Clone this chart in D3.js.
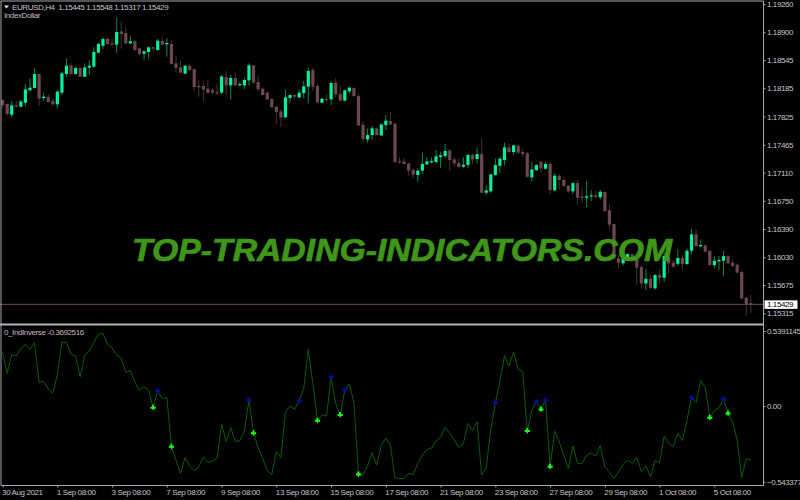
<!DOCTYPE html>
<html>
<head>
<meta charset="utf-8">
<script src="https://cdn.jsdelivr.net/npm/d3@7/dist/d3.min.js"></script>
<style>
  html, body { margin: 0; padding: 0; background: #000; }
  svg { display: block; }
  text { font-family: "Liberation Sans", sans-serif; }
  .small { font-size: 8px; letter-spacing: -0.4px; }
</style>
</head>
<body>
<div id="chart"></div>
<script>
// EURUSD H4 candles
const opens = [
  1.18035,1.17984,1.17848,1.17967,1.17950,1.18001,1.18159,1.18188,1.18367,1.18061,
  1.18074,1.18023,1.17980,1.18129,1.18367,1.18478,1.18367,1.18444,1.18333,1.18448,
  1.18461,1.18639,1.18728,1.18818,1.18758,1.18741,1.18911,1.18890,1.18758,1.18784,
  1.18694,1.18626,1.18648,1.18707,1.18673,1.18788,1.18746,1.18750,1.18503,1.18452,
  1.18371,1.18473,1.18431,1.18214,1.18214,1.18180,1.18159,1.18133,1.18129,1.18329,
  1.18222,1.18316,1.18222,1.18222,1.18286,1.18478,1.18265,1.18180,1.18129,1.18048,
  1.17950,1.17891,1.17814,1.18061,1.18099,1.18069,1.18124,1.18205,1.18418,1.18214,
  1.18001,1.18048,1.18044,1.18256,1.18112,1.18027,1.18146,1.18188,1.18086,1.17721,
  1.17533,1.17589,1.17674,1.17584,1.17716,1.17767,1.17733,1.17253,1.17249,1.17227,
  1.17142,1.17079,1.17134,1.17215,1.17240,1.17244,1.17308,1.17321,1.17393,1.17278,
  1.17232,1.17185,1.17206,1.17334,1.17283,1.17346,1.16853,1.16870,1.17079,1.17198,
  1.17270,1.17431,1.17372,1.17453,1.17372,1.17355,1.17049,1.17142,1.17249,1.17159,
  1.17223,1.16883,1.17070,1.17015,1.16942,1.16870,1.16976,1.16806,1.16789,1.16811,
  1.16819,1.16794,1.16862,1.16628,1.16453,1.16015,1.15952,1.16020,1.16066,1.16015,
  1.15905,1.15696,1.15756,1.15633,1.15803,1.15769,1.16037,1.15960,1.15947,1.16020,
  1.15943,1.16113,1.16322,1.16173,1.16181,1.16109,1.15930,1.15977,1.15986,1.16045,
  1.15960,1.15935,1.15841,1.15514,1.15445
];
const closes = [
  1.17972,1.17857,1.17967,1.17950,1.18018,1.18171,1.18193,1.18367,1.18052,1.18078,
  1.18010,1.17980,1.18142,1.18376,1.18473,1.18367,1.18444,1.18333,1.18452,1.18473,
  1.18648,1.18750,1.18814,1.18750,1.18741,1.18903,1.18877,1.18758,1.18784,1.18673,
  1.18622,1.18656,1.18707,1.18690,1.18792,1.18741,1.18762,1.18495,1.18444,1.18384,
  1.18473,1.18418,1.18201,1.18197,1.18171,1.18129,1.18129,1.18125,1.18337,1.18222,
  1.18316,1.18222,1.18239,1.18291,1.18478,1.18257,1.18171,1.18099,1.18044,1.17942,
  1.17882,1.17814,1.18069,1.18099,1.18078,1.18129,1.18210,1.18405,1.18205,1.18005,
  1.18052,1.18039,1.18252,1.18108,1.18027,1.18159,1.18193,1.18086,1.17712,1.17538,
  1.17589,1.17674,1.17589,1.17725,1.17772,1.17725,1.17244,1.17236,1.17219,1.17134,
  1.17083,1.17134,1.17219,1.17253,1.17257,1.17317,1.17329,1.17385,1.17270,1.17227,
  1.17181,1.17210,1.17334,1.17278,1.17346,1.16853,1.16883,1.17087,1.17206,1.17287,
  1.17431,1.17372,1.17457,1.17363,1.17346,1.17057,1.17151,1.17206,1.17163,1.17219,
  1.16887,1.17070,1.17015,1.16938,1.16870,1.16976,1.16789,1.16789,1.16806,1.16819,
  1.16798,1.16866,1.16619,1.16445,1.16015,1.15960,1.16020,1.16071,1.16011,1.15896,
  1.15696,1.15756,1.15641,1.15803,1.15769,1.16045,1.15952,1.15909,1.16020,1.15943,
  1.16113,1.16322,1.16173,1.16185,1.16100,1.15930,1.15986,1.15994,1.16045,1.15952,
  1.15918,1.15833,1.15505,1.15433,1.15429
];
const highs = [
  1.18044,1.17993,1.18023,1.18023,1.18035,1.18239,1.18312,1.18439,1.18376,1.18129,
  1.18112,1.18057,1.18163,1.18397,1.18567,1.18503,1.18461,1.18452,1.18503,1.18546,
  1.18707,1.18767,1.18831,1.18831,1.18822,1.19086,1.19035,1.18962,1.18852,1.18801,
  1.18703,1.18673,1.18716,1.18716,1.18814,1.18843,1.18822,1.18792,1.18601,1.18537,
  1.18482,1.18503,1.18439,1.18291,1.18282,1.18299,1.18184,1.18248,1.18354,1.18405,
  1.18354,1.18388,1.18269,1.18325,1.18503,1.18478,1.18354,1.18197,1.18146,1.18056,
  1.17959,1.17916,1.18163,1.18103,1.18108,1.18171,1.18282,1.18448,1.18448,1.18248,
  1.18065,1.18108,1.18269,1.18312,1.18222,1.18171,1.18205,1.18197,1.18112,1.17767,
  1.17674,1.17704,1.17687,1.17733,1.17844,1.17882,1.17746,1.17304,1.17291,1.17236,
  1.17164,1.17164,1.17363,1.17304,1.17304,1.17397,1.17376,1.17474,1.17406,1.17312,
  1.17291,1.17304,1.17355,1.17355,1.17431,1.17546,1.16947,1.17091,1.17291,1.17312,
  1.17491,1.17482,1.17465,1.17465,1.17410,1.17372,1.17249,1.17215,1.17253,1.17249,
  1.17236,1.17100,1.17087,1.17057,1.16951,1.16985,1.17015,1.16908,1.17002,1.16883,
  1.16879,1.16887,1.16870,1.16704,1.16462,1.16058,1.16058,1.16079,1.16079,1.16079,
  1.15930,1.15879,1.15803,1.15816,1.15867,1.16100,1.16058,1.15994,1.16130,1.16058,
  1.16143,1.16390,1.16385,1.16258,1.16198,1.16122,1.16045,1.16045,1.16113,1.16058,
  1.15994,1.15952,1.15858,1.15526,1.15548
];
const lows = [
  1.17929,1.17836,1.17814,1.17942,1.17942,1.17959,1.18154,1.18184,1.17959,1.18023,
  1.18001,1.17967,1.17925,1.18099,1.18325,1.18359,1.18359,1.18329,1.18325,1.18359,
  1.18448,1.18631,1.18686,1.18737,1.18737,1.18639,1.18690,1.18746,1.18750,1.18665,
  1.18609,1.18546,1.18563,1.18652,1.18665,1.18733,1.18588,1.18486,1.18384,1.18376,
  1.18367,1.18401,1.18150,1.18078,1.18014,1.18112,1.18108,1.18099,1.18108,1.18099,
  1.18044,1.18214,1.18214,1.18176,1.18222,1.18248,1.18142,1.18091,1.18035,1.17933,
  1.17729,1.17695,1.17810,1.18005,1.18044,1.18052,1.18056,1.17993,1.18154,1.17993,
  1.17993,1.18014,1.17971,1.18069,1.18018,1.18023,1.18120,1.18078,1.17704,1.17504,
  1.17491,1.17525,1.17580,1.17576,1.17653,1.17716,1.17236,1.17227,1.17210,1.17074,
  1.17036,1.16993,1.17091,1.17206,1.17227,1.17227,1.17168,1.17291,1.17134,1.17185,
  1.17159,1.17168,1.17164,1.17219,1.17227,1.16845,1.16823,1.16853,1.17070,1.17100,
  1.17202,1.17355,1.17334,1.17346,1.17304,1.17049,1.16993,1.17130,1.17108,1.17151,
  1.16836,1.16879,1.16896,1.16934,1.16853,1.16836,1.16708,1.16717,1.16670,1.16747,
  1.16789,1.16768,1.16611,1.16390,1.16011,1.15888,1.15926,1.16011,1.15994,1.15675,
  1.15633,1.15611,1.15624,1.15620,1.15696,1.15718,1.15824,1.15896,1.15922,1.15867,
  1.15935,1.16066,1.16164,1.16156,1.16092,1.15922,1.15888,1.15867,1.15794,1.15943,
  1.15909,1.15824,1.15492,1.15284,1.15317
];

// 0_IndInverse line, one value per bar
const indicator = [
  0.386,0.235,0.371,0.359,0.414,0.443,0.407,0.455,0.170,0.177,
  0.122,0.091,0.223,0.460,0.455,0.374,0.359,0.211,0.366,0.395,
  0.457,0.517,0.522,0.443,0.419,0.366,0.342,0.242,0.254,0.168,
  0.115,0.137,0.115,-0.012,0.108,0.053,0.062,-0.292,-0.388,-0.484,
  -0.371,-0.431,-0.464,-0.436,-0.366,-0.402,-0.395,-0.376,-0.129,-0.256,
  -0.153,-0.256,-0.249,-0.180,0.043,-0.196,-0.297,-0.376,-0.464,-0.493,
  -0.326,-0.369,-0.041,0.000,-0.024,0.038,0.127,0.407,0.163,-0.105,
  -0.065,-0.072,0.206,0.019,-0.065,0.115,0.158,0.024,-0.491,-0.496,
  -0.429,-0.335,-0.424,-0.280,-0.230,-0.280,-0.517,-0.520,-0.520,-0.484,
  -0.491,-0.412,-0.352,-0.311,-0.302,-0.251,-0.225,-0.153,-0.196,-0.244,
  -0.297,-0.268,-0.124,-0.177,-0.113,-0.496,-0.443,-0.168,0.024,0.175,
  0.362,0.287,0.390,0.263,0.249,-0.180,-0.029,0.031,-0.024,0.043,
  -0.436,-0.180,-0.256,-0.352,-0.448,-0.287,-0.412,-0.414,-0.352,-0.338,
  -0.359,-0.285,-0.440,-0.472,-0.522,-0.472,-0.419,-0.388,-0.412,-0.369,
  -0.469,-0.431,-0.508,-0.390,-0.405,-0.218,-0.268,-0.292,-0.196,-0.249,
  -0.101,0.062,0.024,0.184,0.134,-0.084,-0.033,-0.012,0.050,-0.053,
  -0.113,-0.244,-0.512,-0.376,-0.390
];
const upArrowBars = [34, 54, 65, 72, 75, 108, 117, 119, 151, 158];
const downArrowBars = [33, 37, 55, 69, 74, 78, 115, 118, 120, 155, 159];

const priceTicks = [1.19260,1.18900,1.18545,1.18185,1.17825,1.17465,1.17110,1.16750,1.16390,1.16030,1.15675,1.15315];
const indTicks = [0.5391145, 0, -0.5433775];
const timeBars = [0,12,24,36,48,60,72,84,96,108,120,132,144,156];
const timeLabels = ['30 Aug 2021','1 Sep 08:00','3 Sep 08:00','7 Sep 08:00','9 Sep 08:00','13 Sep 08:00','15 Sep 08:00','17 Sep 08:00','21 Sep 08:00','23 Sep 08:00','27 Sep 08:00','29 Sep 08:00','1 Oct 08:00','5 Oct 08:00'];
const lastPrice = 1.15429;

const width = 800;
const height = 500;
const axisX = 763.5;
const panelY = 324.5;
const bottomY = 485.5;
const frame = '#a8a8a8';
const label = '#c4c4c4';
const upCol = '#04f09c';
const downCol = '#6c4853';
const upWick = '#07875a';
const downWick = '#46323a';

let svg = d3.select('#chart').append('svg')
  .attr('width', width)
  .attr('height', height);

svg.append('rect')
  .attr('width', width)
  .attr('height', height)
  .attr('fill', '#000');

let x = d3.scaleLinear().domain([0, 164]).range([2.6, 750.85]);
let y = d3.scaleLinear().domain([1.1926, 1.15315]).range([4, 313.3]);
let yInd = d3.scaleLinear().domain([0.5391145, -0.5433775]).range([331, 481.7]);

// price pane
let candles = svg.append('g')
  .selectAll('g')
  .data(opens.map((d, i) => i))
  .enter()
  .append('g');
candles.append('line')
  .attr('x1', i => x(i))
  .attr('x2', i => x(i))
  .attr('y1', i => y(highs[i]))
  .attr('y2', i => y(lows[i]))
  .attr('stroke', i => closes[i] >= opens[i] ? upWick : downWick)
  .attr('stroke-width', 1);
candles.append('rect')
  .attr('x', i => x(i) - 1.6)
  .attr('width', 3.2)
  .attr('y', i => y(Math.max(opens[i], closes[i])))
  .attr('height', i => Math.max(1.2, Math.abs(y(opens[i]) - y(closes[i]))))
  .attr('fill', i => closes[i] >= opens[i] ? upCol : downCol);

// current price line
svg.append('line')
  .attr('x1', 0)
  .attr('x2', axisX)
  .attr('y1', y(lastPrice))
  .attr('y2', y(lastPrice))
  .attr('stroke', downCol)
  .attr('stroke-width', 1);

// indicator pane
svg.append('path')
  .datum(indicator)
  .attr('d', d3.line().x((d, i) => x(i)).y(d => yInd(d)))
  .attr('fill', 'none')
  .attr('stroke', '#0a5a0a')
  .attr('stroke-width', 1);

svg.append('g')
  .selectAll('path')
  .data(upArrowBars)
  .enter()
  .append('path')
  .attr('transform', i => `translate(${x(i)},${yInd(indicator[i])})`)
  .attr('d', 'M0,-3L2.8,0L2.8,1L1.2,1L1.2,2.5L-1.2,2.5L-1.2,1L-2.8,1L-2.8,0Z')
  .attr('fill', '#00108c');

svg.append('g')
  .selectAll('path')
  .data(downArrowBars)
  .enter()
  .append('path')
  .attr('transform', i => `translate(${x(i)},${yInd(indicator[i])})`)
  .attr('d', 'M-1,-3L1,-3L1,-1L2.6,-1L2.6,1L1,1L0,3L-1,1L-2.6,1L-2.6,-1L-1,-1Z')
  .attr('fill', '#1cff1c');

// watermark sits over the candles
svg.append('text')
  .attr('x', 132)
  .attr('y', 261)
  .attr('textLength', 540)
  .attr('lengthAdjust', 'spacingAndGlyphs')
  .attr('font-size', 32)
  .attr('font-weight', 'bold')
  .attr('font-style', 'italic')
  .attr('fill', '#419c19')
  .attr('stroke', '#419c19')
  .attr('stroke-width', 0.7)
  .attr('opacity', 0.97)
  .text('TOP-TRADING-INDICATORS.COM');

// frame
svg.append('line').attr('x1', 1).attr('x2', 1).attr('y1', 1).attr('y2', bottomY).attr('stroke', frame);
svg.append('line').attr('x1', 0.5).attr('x2', axisX).attr('y1', 1).attr('y2', 1).attr('stroke', frame);
svg.append('line').attr('x1', 0).attr('x2', axisX).attr('y1', panelY).attr('y2', panelY).attr('stroke', '#b4b4b4').attr('stroke-width', 2);

// axes
function styleAxis(g) {
  g.selectAll('path').attr('stroke', frame);
  g.selectAll('line').attr('stroke', frame);
  g.selectAll('text')
    .attr('fill', label)
    .attr('class', 'small')
    .style('font-family', '"Liberation Sans", sans-serif');
}

let yAxis = d3.axisRight(y)
  .tickValues(priceTicks)
  .tickFormat(d3.format('.5f'))
  .tickSize(2)
  .tickPadding(1.5);
svg.append('g')
  .attr('transform', `translate(${axisX}, 0)`)
  .call(yAxis)
  .call(g => g.select('.domain').remove())
  .call(styleAxis);

let indAxis = d3.axisRight(yInd)
  .tickValues(indTicks)
  .tickFormat(d => d === 0 ? '0.00' : d3.format('.7f')(d))
  .tickSize(2)
  .tickPadding(1.5);
svg.append('g')
  .attr('transform', `translate(${axisX}, 0)`)
  .call(indAxis)
  .call(g => g.select('.domain').remove())
  .call(styleAxis);

svg.append('line').attr('x1', axisX).attr('x2', axisX).attr('y1', 1).attr('y2', bottomY).attr('stroke', frame);

let xAxis = d3.axisBottom(x)
  .tickValues(timeBars)
  .tickFormat((d, i) => timeLabels[i])
  .tickSize(2)
  .tickPadding(2);
svg.append('g')
  .attr('transform', `translate(0, ${bottomY})`)
  .call(xAxis)
  .call(g => g.select('.domain').remove())
  .call(styleAxis)
  .call(g => g.selectAll('text').attr('text-anchor', 'start').attr('dx', -1));

svg.append('line').attr('x1', 1).attr('x2', axisX).attr('y1', bottomY).attr('y2', bottomY).attr('stroke', frame);

// last price tag
svg.append('rect')
  .attr('x', 764.5)
  .attr('y', y(lastPrice) - 4)
  .attr('width', 33)
  .attr('height', 8.5)
  .attr('fill', '#fff');
svg.append('text')
  .attr('class', 'small')
  .attr('x', 767)
  .attr('y', y(lastPrice) + 3)
  .attr('fill', '#000')
  .text(d3.format('.5f')(lastPrice));

// header texts
svg.append('path')
  .attr('d', 'M4,5.5L9,5.5L6.5,8.5Z')
  .attr('fill', '#e0e0e0');
svg.append('text')
  .attr('class', 'small')
  .attr('x', 12)
  .attr('y', 10)
  .attr('fill', label)
  .attr('xml:space', 'preserve')
  .text('EURUSD,H4  1.15445 1.15548 1.15317 1.15429');
svg.append('text')
  .attr('class', 'small')
  .attr('x', 4)
  .attr('y', 18)
  .attr('fill', '#c6b8bc')
  .text('IndexDollar');
svg.append('text')
  .attr('class', 'small')
  .attr('x', 4)
  .attr('y', 334.5)
  .attr('fill', '#c6b8bc')
  .text('0_IndInverse -0.3692516');
</script>
</body>
</html>
